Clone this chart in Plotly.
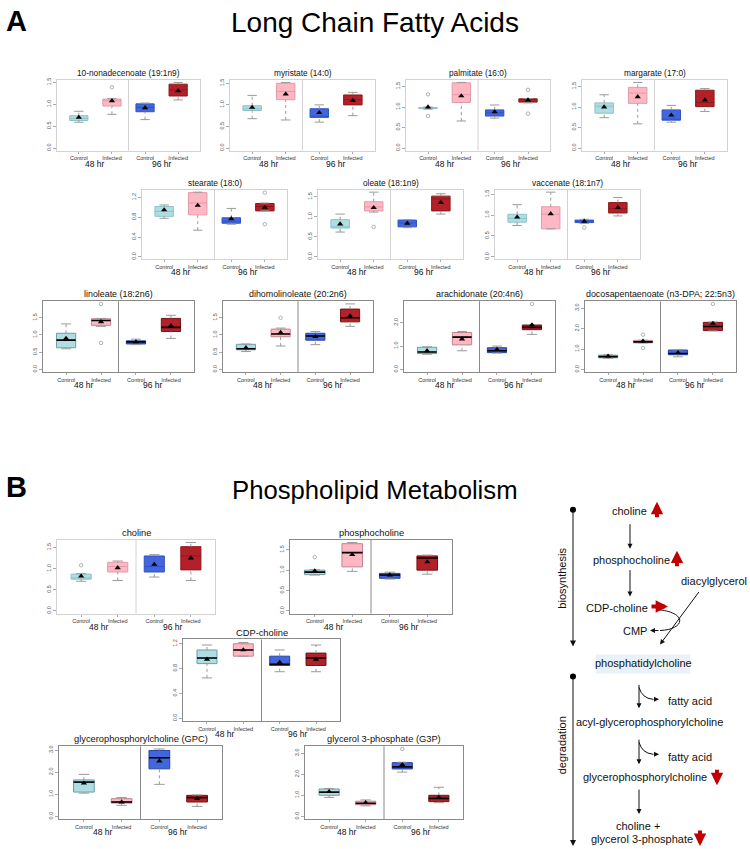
import plotly.graph_objects as go

W, H = 750, 849

# ---------------- data ----------------
PANEL_TITLES = [
    "10-nonadecenoate (19:1n9)", "myristate (14:0)", "palmitate (16:0)", "margarate (17:0)",
    "stearate (18:0)", "oleate (18:1n9)", "vaccenate (18:1n7)",
    "linoleate (18:2n6)", "dihomolinoleate (20:2n6)", "arachidonate (20:4n6)",
    "docosapentaenoate (n3-DPA; 22:5n3)",
    "choline", "phosphocholine", "CDP-choline",
    "glycerophosphorylcholine (GPC)", "glycerol 3-phosphate (G3P)",
]
GROUP_LABELS = ["Control", "Infected", "Control", "Infected"]
GROUP_POS = [1, 2, 3, 4]
TIME_LABELS = ["48 hr", "96 hr"]

LOWER = [
    [0.59, 0.77, 0.65, 1.10], [0.68, 0.65, 0.60, 0.75], [0.95, 0.66, 0.73, 1.10], [0.74, 0.59, 0.63, 0.89],
    [0.78, 0.54, 0.66, 0.93], [0.62, 1.12, 0.73, 1.07], [0.75, 0.67, 0.80, 0.98],
    [0.60, 1.25, 0.72, 0.90], [0.52, 0.68, 0.72, 1.25], [0.65, 0.80, 0.70, 1.50], [0.55, 1.30, 0.62, 1.88],
    [0.70, 0.72, 0.80, 0.72], [0.88, 0.97, 0.78, 0.90], [0.65, 1.00, 0.75, 0.75],
    [1.05, 0.50, 1.45, 0.45], [0.90, 0.50, 2.10, 0.65],
]
Q1 = [
    [0.63, 0.96, 0.83, 1.19], [0.87, 1.12, 0.71, 1.00], [0.96, 1.11, 0.78, 1.12], [0.85, 1.09, 0.68, 1.01],
    [0.82, 0.85, 0.68, 0.93], [0.72, 1.15, 0.75, 1.15], [0.83, 0.67, 0.82, 1.05],
    [0.63, 1.28, 0.74, 1.10], [0.57, 0.95, 0.85, 1.38], [0.68, 1.05, 0.72, 1.70], [0.57, 1.30, 0.72, 1.90],
    [0.75, 0.92, 0.92, 0.97], [0.89, 1.08, 0.80, 1.00], [0.88, 1.00, 0.85, 0.85],
    [1.10, 0.60, 2.15, 0.65], [1.00, 0.55, 2.25, 0.70],
]
MEDIAN = [
    [0.68, 1.08, 0.93, 1.33], [0.91, 1.31, 0.74, 1.12], [0.98, 1.30, 0.86, 1.18], [1.02, 1.34, 0.70, 1.11],
    [0.92, 1.09, 0.72, 1.02], [0.75, 1.25, 0.85, 1.45], [0.92, 1.02, 0.84, 1.15],
    [0.85, 1.42, 0.80, 1.22], [0.60, 1.03, 0.97, 1.50], [0.75, 1.38, 0.80, 1.80], [0.63, 1.35, 0.78, 2.10],
    [0.78, 1.05, 1.05, 1.30], [0.95, 1.43, 0.88, 1.30], [0.97, 1.10, 0.87, 0.97],
    [1.55, 0.65, 2.65, 0.85], [1.15, 0.62, 2.35, 0.85],
]
Q3 = [
    [0.74, 1.12, 1.01, 1.46], [0.98, 1.50, 0.91, 1.23], [0.99, 1.59, 0.93, 1.20], [1.10, 1.48, 0.93, 1.41],
    [1.02, 1.30, 0.79, 1.08], [0.93, 1.38, 0.92, 1.52], [1.02, 1.20, 0.88, 1.30],
    [1.05, 1.47, 0.83, 1.48], [0.73, 1.17, 1.05, 1.75], [0.95, 1.58, 0.93, 1.90], [0.70, 1.42, 0.95, 2.30],
    [0.87, 1.15, 1.30, 1.52], [1.00, 1.65, 0.92, 1.35], [1.10, 1.20, 1.00, 1.05],
    [1.65, 0.80, 2.98, 0.95], [1.30, 0.72, 2.55, 1.00],
]
UPPER = [
    [0.84, 1.13, 1.03, 1.50], [1.22, 1.52, 1.00, 1.29], [1.00, 1.60, 1.05, 1.21], [1.30, 1.60, 1.04, 1.45],
    [1.05, 1.31, 0.98, 1.09], [1.07, 1.62, 0.93, 1.58], [1.25, 1.55, 0.90, 1.42],
    [1.32, 1.48, 0.88, 1.57], [0.74, 1.20, 1.10, 1.90], [0.97, 1.62, 1.00, 1.92], [0.72, 1.43, 0.96, 2.32],
    [0.88, 1.18, 1.33, 1.62], [1.01, 1.68, 0.95, 1.37], [1.18, 1.22, 1.10, 1.18],
    [1.90, 0.85, 3.05, 0.97], [1.32, 0.78, 2.57, 1.38],
]
MEAN = [
    [0.70, 1.08, 0.92, 1.31], [0.94, 1.25, 0.82, 1.10], [1.00, 1.27, 0.88, 1.17], [1.00, 1.25, 0.80, 1.17],
    [0.95, 1.04, 0.77, 1.00], [0.82, 1.23, 0.84, 1.36], [0.95, 1.03, 0.85, 1.18],
    [0.90, 1.38, 0.80, 1.27], [0.63, 1.07, 0.95, 1.55], [0.80, 1.30, 0.85, 1.90], [0.65, 1.38, 0.82, 2.25],
    [0.82, 1.02, 1.10, 1.25], [0.98, 1.38, 0.88, 1.20], [0.95, 1.10, 0.90, 0.95],
    [1.50, 0.65, 2.50, 0.80], [1.17, 0.65, 2.45, 0.90],
]
OUTLIER_PANEL = [0, 2, 2, 2, 2, 4, 4, 5, 6, 7, 7, 8, 9, 10, 10, 10, 11, 12, 15]
OUTLIER_GROUP = [2, 1, 1, 4, 4, 4, 4, 2, 3, 2, 2, 2, 4, 2, 2, 4, 1, 1, 3]
OUTLIER_VALUE = [1.39, 1.31, 0.78, 1.42, 0.84, 1.30, 0.66, 0.75, 0.70, 1.90, 0.77, 1.50, 2.80,
                 1.70, 1.05, 3.20, 1.08, 1.32, 3.20]
Y_TICKS = [
    [0, 0.5, 1.0, 1.5], [0, 0.5, 1.0, 1.5], [0, 0.5, 1.0, 1.5], [0, 0.5, 1.0, 1.5],
    [0, 0.4, 0.8, 1.2], [0, 0.5, 1.0, 1.5], [0, 0.5, 1.0, 1.5],
    [0, 0.5, 1.0, 1.5], [0, 0.5, 1.0, 1.5], [0, 1.0, 2.0], [0, 1.0, 2.0, 3.0],
    [0, 0.5, 1.0, 1.5], [0, 0.5, 1.0, 1.5], [0, 0.4, 0.8, 1.2],
    [0, 1.0, 2.0, 3.0], [0, 1.0, 2.0, 3.0],
]

# ---------------- layout / style (pixels) ----------------
PANEL_BOX = [
    (57, 200, 78, 149), (230, 375, 78, 149), (406, 550, 78, 149), (582, 727, 78, 149),
    (142, 287, 188, 258), (318, 463, 188, 258), (495, 640, 188, 258),
    (43, 194, 300, 371), (223, 373, 300, 371), (404, 555, 300, 371), (585, 736, 300, 371),
    (57, 215, 539, 613), (290, 452, 539, 613), (183, 340, 639, 721),
    (59, 222, 746, 819), (305, 463, 746, 819),
]
STYLE = ["light"] * 7 + ["dark"] * 4 + ["light", "dark", "dark", "dark", "dark"]
TITLE_SIZE = [8.3] * 7 + [8.9] * 4 + [9.3] * 5
FILL = ["#b0dde2", "#ffb7c3", "#4267dc", "#b3202a"]
EDGE_LIGHT = ["#8cc3c8", "#e49aa8", "#2f52c8", "#8e1818"]
EDGE_DARK = ["#6d9ea3", "#c0848f", "#26449e", "#761313"]
WHISKER = "#9a9a9a"
FONT = "Liberation Sans, Arial, Helvetica, sans-serif"
BOX_W = 0.55
CAP_W = 0.14


def X(px):
    return px / W


def Y(py):
    return 1 - py / H


fig = go.Figure()
layout_axes = {}
annotations = []
shapes = []

for i, title in enumerate(PANEL_TITLES):
    n = i + 1
    xa = "x" if n == 1 else f"x{n}"
    ya = "y" if n == 1 else f"y{n}"
    x0, x1, y0, y1 = PANEL_BOX[i]
    dark = STYLE[i] == "dark"
    edges = EDGE_DARK if dark else EDGE_LIGHT
    frame = "#8a8a8a" if dark else "#d2d2d2"

    # whiskers: dotted stems + solid caps
    wx, wy, cx, cy = [], [], [], []
    for g in range(4):
        p = GROUP_POS[g]
        wx += [p, p, None, p, p, None]
        wy += [Q3[i][g], UPPER[i][g], None, LOWER[i][g], Q1[i][g], None]
        cx += [p - CAP_W, p + CAP_W, None, p - CAP_W, p + CAP_W, None]
        cy += [UPPER[i][g], UPPER[i][g], None, LOWER[i][g], LOWER[i][g], None]
    fig.add_trace(go.Scatter(x=wx, y=wy, mode="lines", line=dict(color=WHISKER, width=1, dash="dot"),
                             xaxis=xa, yaxis=ya, showlegend=False, hoverinfo="skip"))
    fig.add_trace(go.Scatter(x=cx, y=cy, mode="lines", line=dict(color=WHISKER, width=1),
                             xaxis=xa, yaxis=ya, showlegend=False, hoverinfo="skip"))

    for g in range(4):
        fig.add_trace(go.Box(
            x=[GROUP_POS[g]], q1=[Q1[i][g]], median=[MEDIAN[i][g]], q3=[Q3[i][g]],
            lowerfence=[Q1[i][g]], upperfence=[Q3[i][g]],
            fillcolor=FILL[g], line=dict(color=edges[g], width=1),
            width=BOX_W, whiskerwidth=0, boxpoints=False,
            xaxis=xa, yaxis=ya, showlegend=False, hoverinfo="skip"))

    if dark:
        mx, my = [], []
        for g in range(4):
            mx += [GROUP_POS[g] - BOX_W / 2, GROUP_POS[g] + BOX_W / 2, None]
            my += [MEDIAN[i][g], MEDIAN[i][g], None]
        fig.add_trace(go.Scatter(x=mx, y=my, mode="lines", line=dict(color="black", width=1.6),
                                 xaxis=xa, yaxis=ya, showlegend=False, hoverinfo="skip"))

    ox = [OUTLIER_GROUP[k] for k in range(len(OUTLIER_PANEL)) if OUTLIER_PANEL[k] == i]
    oy = [OUTLIER_VALUE[k] for k in range(len(OUTLIER_PANEL)) if OUTLIER_PANEL[k] == i]
    if ox:
        fig.add_trace(go.Scatter(x=ox, y=oy, mode="markers",
                                 marker=dict(symbol="circle-open", size=3.5, color="#a0a0a0",
                                             line=dict(width=0.8)),
                                 xaxis=xa, yaxis=ya, showlegend=False, hoverinfo="skip"))

    fig.add_trace(go.Scatter(x=GROUP_POS, y=MEAN[i], mode="markers",
                             marker=dict(symbol="triangle-up", size=5.5, color="black"),
                             xaxis=xa, yaxis=ya, showlegend=False, hoverinfo="skip"))

    top = max(UPPER[i] + oy)
    layout_axes["xaxis" if n == 1 else f"xaxis{n}"] = dict(
        domain=[X(x0), X(x1)], anchor=ya, range=[0.34, 4.66],
        tickvals=GROUP_POS, ticktext=GROUP_LABELS, tickfont=dict(size=5.5, color="#333", family=FONT),
        ticks="outside", ticklen=2, tickcolor="#aaa", showgrid=False, zeroline=False,
        showline=True, mirror=True, linecolor=frame, linewidth=1, fixedrange=True)
    layout_axes["yaxis" if n == 1 else f"yaxis{n}"] = dict(
        domain=[Y(y1), Y(y0)], anchor=xa, range=[-0.04 * top, 1.04 * top],
        tickvals=Y_TICKS[i], ticktext=[f"{v:.1f}" for v in Y_TICKS[i]],
        tickfont=dict(size=5.5, color="#555", family=FONT), tickangle=-90,
        ticks="outside", ticklen=3, tickcolor="#aaa", showgrid=False, zeroline=False,
        showline=True, mirror=True, linecolor=frame, linewidth=1, fixedrange=True)

    shapes.append(dict(type="line", xref=xa, yref=f"{ya} domain", x0=2.5, x1=2.5, y0=0, y1=1,
                       line=dict(color=frame, width=1)))
    annotations.append(dict(text=title, xref=f"{xa} domain", x=0.5, yref="paper", y=Y(y0 - 7),
                            showarrow=False, font=dict(size=TITLE_SIZE[i], color="#111", family=FONT),
                            xanchor="center", yanchor="middle"))
    for t, pos in zip(TIME_LABELS, [1.5, 3.5]):
        annotations.append(dict(text=t, xref=xa, x=pos, yref="paper", y=Y(y1 + 13),
                                showarrow=False, font=dict(size=8.5, color="#111", family=FONT),
                                xanchor="center", yanchor="middle"))

# ---------------- headers ----------------
for txt, px, py, size, bold in [("A", 16, 19, 29, True), ("Long Chain Fatty Acids", 375, 21, 28, False),
                                ("B", 16, 486, 29, True), ("Phospholipid Metabolism", 375, 489, 25.7, False)]:
    annotations.append(dict(text=f"<b>{txt}</b>" if bold else txt, xref="paper", yref="paper",
                            x=X(px), y=Y(py), showarrow=False, xanchor="center", yanchor="middle",
                            font=dict(size=size, color="black", family=FONT)))

# ---------------- pathway diagram ----------------
DIAG_FONT = dict(size=11, color="#111", family=FONT)
labels = [
    ("choline", 629, 510), ("phosphocholine", 631, 559), ("diacylglycerol", 714, 580),
    ("CDP-choline", 617, 607), ("CMP", 635, 630), ("phosphatidylcholine", 643, 663),
    ("fatty acid", 690, 701), ("acyl-glycerophosphorylcholine", 649, 722),
    ("fatty acid", 690, 757), ("glycerophosphorylcholine", 645, 777),
    ("choline +", 638, 826), ("glycerol 3-phosphate", 642, 839),
]
shapes.append(dict(type="rect", xref="paper", yref="paper", x0=X(596), x1=X(690), y0=Y(673), y1=Y(654),
                   fillcolor="#e4edf8", line=dict(width=0), opacity=0.8, layer="below"))
for txt, px, py in labels:
    annotations.append(dict(text=txt, xref="paper", yref="paper", x=X(px), y=Y(py), showarrow=False,
                            xanchor="center", yanchor="middle", font=DIAG_FONT))
for txt, px, py in [("biosynthesis", 562, 578), ("degradation", 562, 745)]:
    annotations.append(dict(text=txt, xref="paper", yref="paper", x=X(px), y=Y(py), showarrow=False,
                            textangle=-90, xanchor="center", yanchor="middle", font=DIAG_FONT))


def arrow(hx, hy, tx, ty, color="#111", width=1, size=1, head=2):
    annotations.append(dict(x=X(hx), y=Y(hy), xref="paper", yref="paper", ax=tx - hx, ay=ty - hy,
                            axref="pixel", ayref="pixel", text="", showarrow=True, arrowhead=head,
                            arrowsize=size, arrowwidth=width, arrowcolor=color))


# long side arrows
arrow(573, 646, 573, 509, size=1.2)
arrow(573, 846, 573, 676, size=1.2)
for cy in (509, 676):
    shapes.append(dict(type="circle", xref="paper", yref="paper", x0=X(570), x1=X(576),
                       y0=Y(cy + 3), y1=Y(cy - 3), fillcolor="black", line=dict(width=0)))
# metabolic steps
arrow(630, 548, 630, 522)
arrow(630, 596, 630, 568)
arrow(639, 708, 639, 683)
arrow(639, 764, 639, 738)
arrow(639, 814, 639, 788)
arrow(660, 644, 700, 590)
# curved branches
shapes.append(dict(type="path", xref="paper", yref="paper",
                   path=f"M {X(656)},{Y(609)} C {X(688)},{Y(611)} {X(686)},{Y(629)} {X(660)},{Y(630)}",
                   line=dict(color="#111", width=1)))
arrow(650, 630, 660, 630)
for by in (687, 742):
    shapes.append(dict(type="path", xref="paper", yref="paper",
                       path=f"M {X(639)},{Y(by)} Q {X(642)},{Y(by + 11)} {X(653)},{Y(by + 12)}",
                       line=dict(color="#111", width=1)))
    arrow(659, by + 12, 652, by + 12)
# red change arrows
RED = "#c00000"
arrow(657, 501, 657, 518, color=RED, width=4, size=0.62)
arrow(677, 550, 677, 567, color=RED, width=4, size=0.62)
arrow(668, 606, 650, 606, color=RED, width=4, size=0.62)
arrow(717, 785, 717, 768, color=RED, width=4, size=0.62)
arrow(700, 846, 700, 829, color=RED, width=4, size=0.62)

fig.update_layout(
    width=W, height=H, margin=dict(l=0, r=0, t=0, b=0),
    paper_bgcolor="white", plot_bgcolor="white",
    font=dict(family=FONT),
    annotations=annotations, shapes=shapes, showlegend=False,
    **layout_axes,
)

fig.write_html("out.html", config={"displayModeBar": False},
               post_script="document.body.style.margin='0';document.body.style.padding='0';")
